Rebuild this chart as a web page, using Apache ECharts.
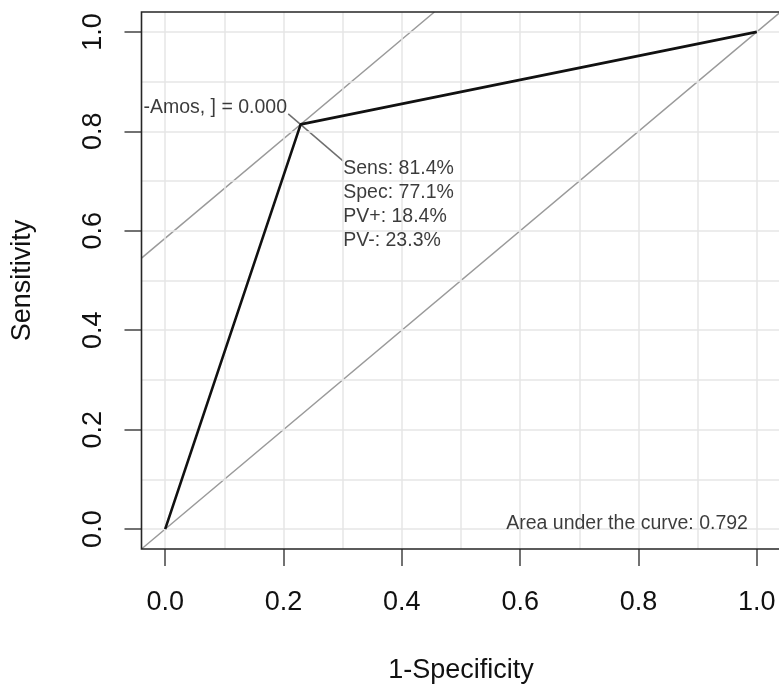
<!DOCTYPE html>
<html>
<head>
<meta charset="utf-8">
<script src="https://cdn.jsdelivr.net/npm/echarts@6/dist/echarts.min.js"></script>
<style>
html,body{margin:0;padding:0;background:#fff;}
#chart{width:779px;height:685px;}
</style>
</head>
<body>
<div id="chart"></div>
<script>
// ---- data ----
const rocFPR = [0, 0.229, 1];          // 1 - specificity
const rocTPR = [0, 0.814, 1];          // sensitivity
const optPoint = [0.229, 0.814];
const axisMin = -0.04, axisMax = 1.04;
const tickValues = [0, 0.2, 0.4, 0.6, 0.8, 1.0];
const tickLabels = ['0.0', '0.2', '0.4', '0.6', '0.8', '1.0'];
const gridValues = [0, 0.1, 0.2, 0.3, 0.4, 0.5, 0.6, 0.7, 0.8, 0.9, 1.0];
const statsText = ['Sens: 81.4%', 'Spec: 77.1%', 'PV+: 18.4%', 'PV-: 23.3%'];
const cutoffText = '-Amos, ] = 0.000';
const aucText = 'Area under the curve: 0.792';
const pointerFrom = [0.208, 0.835];
const pointerTo = [0.301, 0.740];
const statsAnchor = [0.301, 0.7485];
const cutoffAnchor = [0.206, 0.847];
const aucAnchor = [0.985, 0.012];

const FONT = 'Liberation Sans, Arial, Helvetica, sans-serif';
const chart = echarts.init(document.getElementById('chart'));

const c = optPoint[1] - optPoint[0];
const tangent = [[axisMin, axisMin + c], [axisMax - c, axisMax]];
const diag = [[axisMin, axisMin], [axisMax, axisMax]];

const gridMarks = [];
gridValues.forEach(v => { gridMarks.push({xAxis: v}); gridMarks.push({yAxis: v}); });

function textSeries(anchor, text, align, vAlign) {
  return {
    type: 'scatter', symbolSize: 0, silent: true, z: 10,
    data: [anchor],
    label: {
      show: true, position: [0, 0], align: align, verticalAlign: vAlign,
      formatter: () => text, fontFamily: FONT, fontSize: 19.5, lineHeight: 24, color: '#0a0a0a'
    }
  };
}
const fmt = v => tickLabels[tickValues.indexOf(Math.round(v * 10) / 10)] ?? '';

chart.setOption({
  animation: false,
  backgroundColor: '#fff',
  grid: {left: 141.5, top: 12, width: 639, height: 537, show: true, outerBoundsMode: 'none', containLabel: false,
         borderColor: '#262626', borderWidth: 1.6, backgroundColor: 'transparent', z: 20},
  xAxis: {
    type: 'value', min: axisMin, max: axisMax,
    name: '1-Specificity', nameLocation: 'middle', nameGap: 108,
    nameTextStyle: {fontFamily: FONT, fontSize: 27, color: '#111'},
    axisLine: {show: false, onZero: false},
    axisTick: {show: true, inside: false, customValues: tickValues, length: 17, lineStyle: {color: '#444', width: 1.5}},
    axisLabel: {customValues: tickValues, formatter: fmt,
                fontFamily: FONT, fontSize: 27, color: '#111', margin: 40.5},
    splitLine: {show: false}
  },
  yAxis: {
    type: 'value', min: axisMin, max: axisMax,
    name: 'Sensitivity', nameLocation: 'middle', nameGap: 105, nameRotate: 90,
    nameTextStyle: {fontFamily: FONT, fontSize: 27, color: '#111'},
    axisLine: {show: false, onZero: false},
    axisTick: {show: true, inside: false, customValues: tickValues, length: 17, lineStyle: {color: '#444', width: 1.5}},
    axisLabel: {customValues: tickValues, rotate: 90, formatter: fmt,
                fontFamily: FONT, fontSize: 27, color: '#111', margin: 34.5},
    splitLine: {show: false}
  },
  series: [
    {
      type: 'line', data: [], z: 1, silent: true,
      markLine: {silent: true, symbol: 'none', label: {show: false}, animation: false,
                 lineStyle: {color: '#e6e6e6', width: 1.5, type: 'solid'}, data: gridMarks}
    },
    {type: 'line', data: diag, showSymbol: false, silent: true, z: 3, lineStyle: {color: '#9a9a9a', width: 1.5}},
    {type: 'line', data: tangent, showSymbol: false, silent: true, z: 3, clip: true, lineStyle: {color: '#9a9a9a', width: 1.5}},
    {type: 'line', data: [pointerFrom, pointerTo], showSymbol: false, silent: true, z: 3, lineStyle: {color: '#6f6f6f', width: 1.5}},
    {type: 'line', data: rocFPR.map((x, i) => [x, rocTPR[i]]), showSymbol: false, silent: true, z: 5,
     lineStyle: {color: '#111', width: 2.6}},
    textSeries(statsAnchor, statsText.join('\n'), 'left', 'top'),
    textSeries(cutoffAnchor, cutoffText, 'right', 'middle'),
    textSeries(aucAnchor, aucText, 'right', 'middle')
  ]
});
</script>
</body>
</html>
